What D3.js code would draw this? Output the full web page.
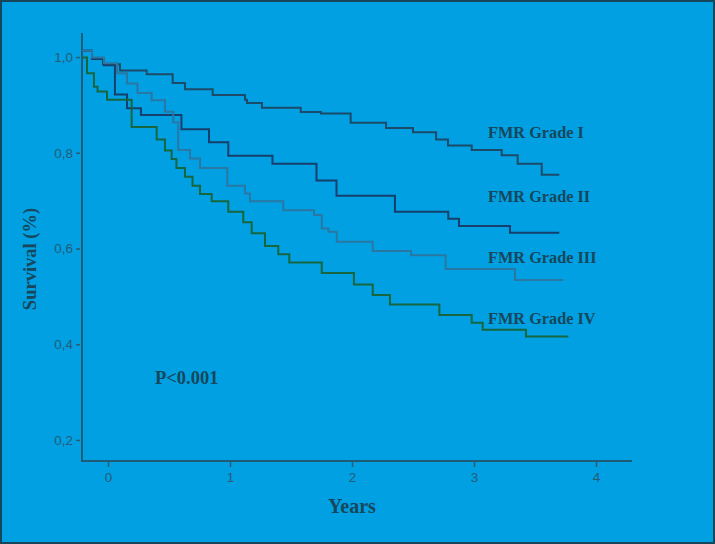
<!DOCTYPE html>
<html><head><meta charset="utf-8">
<script src="https://cdn.jsdelivr.net/npm/d3@7"></script>
<style>html,body{margin:0;padding:0;background:#00a0e3;}svg{display:block;}</style>
</head><body>
<svg id="chart" width="715" height="544"></svg>
<script>
// ---- data ----
const seriesNames = ["FMR Grade I", "FMR Grade II", "FMR Grade III", "FMR Grade IV"];
const xTicks = [0, 1, 2, 3, 4];
const yTicks = [0.2, 0.4, 0.6, 0.8, 1.0];

const gradeI_t = [-0.213, -0.131, -0.041, 0.098, 0.317, 0.530, 0.631, 0.858, 1.123, 1.139, 1.262, 1.580, 1.746, 1.989, 2.279, 2.500, 2.689, 2.787, 2.981, 3.227, 3.358, 3.555, 3.699];
const gradeI_s = [1.013, 0.998, 0.985, 0.972, 0.964, 0.946, 0.933, 0.921, 0.911, 0.904, 0.894, 0.885, 0.882, 0.863, 0.852, 0.843, 0.828, 0.815, 0.806, 0.795, 0.777, 0.754, 0.754];

const gradeII_t = [-0.213, -0.131, -0.033, 0.057, 0.156, 0.270, 0.602, 0.828, 0.986, 1.348, 1.709, 1.873, 2.352, 2.789, 2.877, 3.295, 3.699];
const gradeII_s = [1.013, 0.996, 0.983, 0.922, 0.893, 0.879, 0.849, 0.822, 0.794, 0.777, 0.742, 0.710, 0.677, 0.662, 0.647, 0.633, 0.633];

const gradeIII_t = [-0.213, -0.131, -0.033, 0.074, 0.156, 0.242, 0.358, 0.467, 0.535, 0.576, 0.672, 0.754, 0.978, 1.123, 1.164, 1.437, 1.689, 1.752, 1.806, 1.875, 2.170, 2.484, 2.768, 3.336, 3.732];
const gradeIII_s = [1.013, 0.999, 0.987, 0.966, 0.945, 0.925, 0.910, 0.886, 0.864, 0.806, 0.788, 0.768, 0.731, 0.715, 0.699, 0.680, 0.670, 0.642, 0.635, 0.614, 0.595, 0.586, 0.557, 0.534, 0.534];

const gradeIV_t = [-0.213, -0.172, -0.115, -0.086, -0.008, 0.194, 0.399, 0.467, 0.522, 0.561, 0.631, 0.693, 0.754, 0.850, 0.986, 1.109, 1.178, 1.287, 1.396, 1.486, 1.752, 2.016, 2.170, 2.311, 2.716, 2.981, 3.071, 3.426, 3.773];
const gradeIV_s = [0.999, 0.966, 0.938, 0.928, 0.911, 0.854, 0.828, 0.805, 0.787, 0.768, 0.750, 0.731, 0.714, 0.699, 0.677, 0.655, 0.632, 0.605, 0.588, 0.571, 0.549, 0.525, 0.503, 0.483, 0.461, 0.445, 0.430, 0.416, 0.416];

const labelYValue = [0.843, 0.710, 0.582, 0.455]; // where the series labels sit
const pValueText = "P<0.001";

// ---- drawing ----
const svg = d3.select("#chart");
const W = 715, H = 544;
svg.append("rect").attr("x", 1).attr("y", 1).attr("width", W - 2).attr("height", H - 2)
  .attr("fill", "#00a0e3").attr("stroke", "#17465c").attr("stroke-width", 2);

const x = d3.scaleLinear().domain([-0.213, 4.295]).range([82, 632]);
const y = d3.scaleLinear().domain([0.156, 1.0503]).range([461, 33]);

const axisColor = "#1d5b76";
const tickTextColor = "#275c74";

// Y axis
const yAxis = svg.append("g").attr("transform", "translate(82,0)")
  .call(d3.axisLeft(y).tickValues(yTicks).tickSize(6).tickPadding(3)
    .tickFormat(d => d3.format(".1f")(d).replace(".", ",")));
yAxis.select(".domain").remove();
yAxis.selectAll(".tick line").attr("x1", -2).attr("x2", -6).attr("stroke", tickTextColor).attr("stroke-width", 1.5);
yAxis.selectAll(".tick text").attr("fill", tickTextColor)
  .style("font-family", "'Liberation Sans', Arial, sans-serif").style("font-size", "13.5px");
svg.append("line").attr("x1", 82).attr("x2", 82).attr("y1", 33).attr("y2", 462)
  .attr("stroke", axisColor).attr("stroke-width", 2);

// X axis
const xAxis = svg.append("g").attr("transform", "translate(0,461)")
  .call(d3.axisBottom(x).tickValues(xTicks).tickSize(6).tickPadding(5).tickFormat(d3.format("d")));
xAxis.select(".domain").remove();
xAxis.selectAll(".tick line").attr("stroke", tickTextColor).attr("stroke-width", 1.5);
xAxis.selectAll(".tick text").attr("fill", tickTextColor)
  .style("font-family", "'Liberation Sans', Arial, sans-serif").style("font-size", "13.5px");
svg.append("line").attr("x1", 81).attr("x2", 632).attr("y1", 461).attr("y2", 461)
  .attr("stroke", axisColor).attr("stroke-width", 2);

// Curves
const series = [
  { t: gradeI_t, s: gradeI_s, color: "#1b4b68" },
  { t: gradeII_t, s: gradeII_s, color: "#163f6c" },
  { t: gradeIII_t, s: gradeIII_s, color: "#2a77a3" },
  { t: gradeIV_t, s: gradeIV_s, color: "#16663f" }
];
const line = d3.line().x(d => x(d[0])).y(d => y(d[1])).curve(d3.curveStepAfter);
series.forEach(sr => {
  const pts = sr.t.map((t, i) => [t, sr.s[i]]);
  svg.append("path").attr("d", line(pts)).attr("fill", "none")
    .attr("stroke", sr.color).attr("stroke-width", 2);
});

// Series labels
const serif = "'Liberation Serif', 'Times New Roman', serif";
const labelColor = "#17475a";
seriesNames.forEach((n, i) => {
  svg.append("text").attr("x", 488).attr("y", y(labelYValue[i])).attr("dy", "0.35em")
    .attr("fill", labelColor).style("font-family", serif).style("font-weight", "bold")
    .style("font-size", "16.3px").text(n);
});

// P value
svg.append("text").attr("x", 155).attr("y", 378).attr("dy", "0.35em")
  .attr("fill", labelColor).style("font-family", serif).style("font-weight", "bold")
  .style("font-size", "18.5px").text(pValueText);

// Axis titles
svg.append("text").attr("x", 352).attr("y", 506).attr("dy", "0.35em").attr("text-anchor", "middle")
  .attr("fill", labelColor).style("font-family", serif).style("font-weight", "bold")
  .style("font-size", "20px").text("Years");
svg.append("text").attr("transform", "translate(30,259) rotate(-90)").attr("dy", "0.35em")
  .attr("text-anchor", "middle")
  .attr("fill", labelColor).style("font-family", serif).style("font-weight", "bold")
  .style("font-size", "18.5px").text("Survival (%)");
</script>
</body></html>
